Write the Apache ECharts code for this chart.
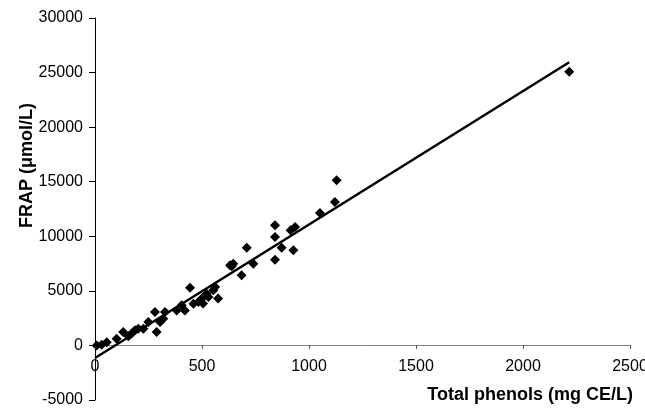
<!DOCTYPE html>
<html>
<head>
<meta charset="utf-8">
<script src="https://cdn.jsdelivr.net/npm/echarts@6/dist/echarts.min.js"></script>
<style>
  html, body { margin: 0; padding: 0; background: #fff; }
  #chart { width: 645px; height: 412px; }
</style>
</head>
<body>
<div id="chart"></div>
<script>
// total phenols (mg CE/L) vs FRAP (umol/L)
const phenols = [8, 31, 55, 101, 132, 156, 171, 187, 202, 226, 249, 280, 288, 304, 319, 327,
  382, 405, 420, 444, 460, 483, 498, 505, 522, 530, 553, 561, 575, 631, 639, 646, 685, 709, 740,
  841, 841, 841, 872, 914, 927, 935, 1051, 1121, 1129, 2216];
const frap = [0, 60, 300, 610, 1220, 830, 1100, 1380, 1530, 1530, 2140, 3060, 1220, 2140, 2440, 3060,
  3210, 3670, 3210, 5290, 3820, 3970, 4280, 3850, 4740, 4430, 5050, 5350, 4300, 7340, 7250, 7490, 6420, 8960, 7490,
  11000, 9940, 7860, 8960, 10550, 8720, 10850, 12140, 13150, 15140, 25070];
// regression line end points
const fitX = [0, 2216];
const fitY = [-1150, 25950];

const xTicks = [0, 500, 1000, 1500, 2000, 2500];
const yTicks = [-5000, 0, 5000, 10000, 15000, 20000, 25000, 30000];

const chart = echarts.init(document.getElementById('chart'));
const font = 'Liberation Sans, Arial, sans-serif';

const option = {
  animation: false,
  grid: { left: 95, right: 15, top: 18, bottom: 12, outerBoundsMode: 'none' },
  xAxis: {
    type: 'value',
    min: xTicks[0],
    max: xTicks[xTicks.length - 1],
    interval: 500,
    // axis sits on y = 0, labels follow it
    offset: -55,
    splitLine: { show: false },
    axisLine: { onZero: false, lineStyle: { color: '#808080', width: 1 } },
    axisTick: { length: 4, lineStyle: { color: '#555' } },
    axisLabel: { color: '#000', fontFamily: font, fontSize: 16, margin: 14, formatter: (v) => String(v) }
  },
  yAxis: {
    type: 'value',
    min: yTicks[0],
    max: yTicks[yTicks.length - 1],
    interval: 5000,
    splitLine: { show: false },
    axisLine: { onZero: false, lineStyle: { color: '#000', width: 1 } },
    axisTick: { length: 6, lineStyle: { color: '#000' } },
    axisLabel: { color: '#000', fontFamily: font, fontSize: 16, margin: 12, formatter: (v) => String(v) }
  },
  graphic: [
    {
      type: 'text',
      left: 18, top: 103,
      rotation: Math.PI / 2,
      style: {
        text: 'FRAP (μmol/L)',
        fill: '#000',
        font: 'bold 18px ' + font
      }
    },
    {
      type: 'text',
      right: 12, top: 386,
      style: {
        text: 'Total phenols (mg CE/L)',
        fill: '#000',
        font: 'bold 18px ' + font
      }
    }
  ],
  series: [
    {
      type: 'scatter',
      symbol: 'diamond',
      symbolSize: 10,
      itemStyle: { color: '#000', opacity: 1 },
      data: phenols.map((v, i) => [v, frap[i]]),
      z: 3
    },
    {
      type: 'line',
      symbol: 'none',
      lineStyle: { color: '#000', width: 2.5 },
      data: fitX.map((v, i) => [v, fitY[i]]),
      z: 2
    }
  ]
};
chart.setOption(option);
</script>
</body>
</html>
